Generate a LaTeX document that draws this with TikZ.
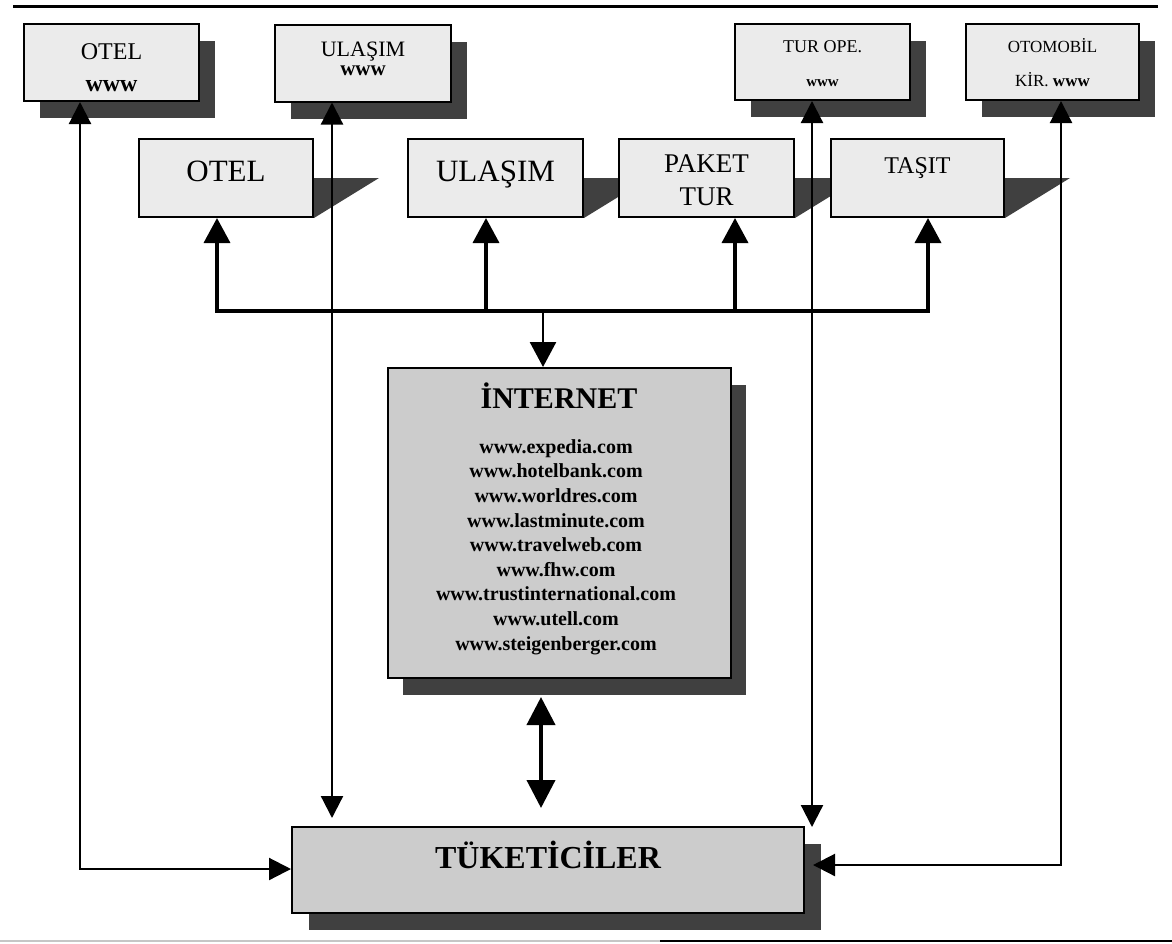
\documentclass[tikz,border=0pt]{standalone}
\usepackage{fontspec}
\setmainfont{Liberation Serif}
\usetikzlibrary{arrows.meta,shadows,backgrounds,calc}
\newcommand{\setfs}[2]{\fontsize{#1}{#2}\selectfont}

\begin{document}
\begin{tikzpicture}[x=1pt,y=-1pt,
  lightfill/.style={fill=gray!16},
  darkfill/.style={fill=gray!40},
  shadowcol/.style={fill=black!75},
  webbox/.style={draw=black,line width=2pt,lightfill,minimum width=175pt,
    minimum height=77pt,inner sep=0pt,align=center,
    drop shadow={shadow xshift=16pt,shadow yshift=-17pt,shadowcol,opacity=1}},
  midbox/.style={draw=black,line width=2pt,lightfill,minimum width=174pt,
    minimum height=78pt,inner sep=0pt,align=center},
  inetbox/.style={draw=black,line width=2pt,darkfill,minimum width=343pt,
    minimum height=310pt,inner sep=0pt,
    drop shadow={shadow xshift=15pt,shadow yshift=-17pt,shadowcol,opacity=1}},
  userbox/.style={draw=black,line width=2pt,darkfill,minimum width=512pt,
    minimum height=86pt,inner sep=0pt,
    drop shadow={shadow xshift=17pt,shadow yshift=-17pt,shadowcol,opacity=1}},
  thinline/.style={line width=2.2pt},
  busline/.style={line width=3.6pt},
  stemline/.style={line width=2.6pt},
  dblline/.style={line width=4pt},
  tipthin/.tip={Triangle[length=22pt,width=22pt]},
  tipbus/.tip={Triangle[length=25pt,width=26pt]},
  tipdbl/.tip={Triangle[length=28pt,width=28pt]},
]
\useasboundingbox (0,0) rectangle (1172,943);

% page rules
\draw[line width=3pt] (13,6) -- (1158,6);
\draw[gray!45,line width=2pt] (0,941) -- (660,941);
\draw[black,line width=2pt] (660,941) -- (1172,941);

% web sites of the suppliers
\node[webbox,font=\setfs{24}{32}] (tw1) at (111.5,62.5)
  {\rule{0pt}{27pt}OTEL\\\textbf{www}};
\node[webbox,minimum width=176pt,font=\setfs{22}{19}] (tw2) at (363,63)
  {ULAŞIM\\\textbf{\setfs{21}{19}www}\rule[-8pt]{0pt}{0pt}};
\node[webbox,minimum height=76pt,font=\setfs{18}{34}] (tw3) at (822.5,62)
  {\rule{0pt}{16pt}TUR OPE.\\\textbf{\setfs{15}{34}www}};
\node[webbox,minimum width=173pt,minimum height=76pt,font=\setfs{17}{34}] (tw4) at (1052.5,62)
  {\rule{0pt}{16pt}OTOMOBİL\\KİR. \textbf{www}};

% intermediaries
\node[midbox,font=\setfs{31}{31},text height=20pt,text depth=14pt] (m1) at (226,178) {OTEL};
\node[midbox,minimum width=175pt,font=\setfs{31}{31},text height=20pt,text depth=14pt] (m2) at (495.5,178) {ULAŞIM};
\node[midbox,minimum width=175pt,font=\setfs{27}{33}] (m3) at (706.5,178) {\rule{0pt}{23pt}PAKET\\TUR};
\node[midbox,minimum width=173pt,font=\setfs{24}{24},text height=16pt,text depth=26pt] (m4) at (917.5,178) {TAŞIT};

% slanted shadows of the intermediaries
\begin{scope}[on background layer]
  \foreach \n in {m1,m2,m3,m4}
    \fill[shadowcol] (\n.east) -- ++(65,0) -- (\n.south east) -- cycle;
\end{scope}

% internet portal
\node[inetbox] (inet) at (559.5,523) {};
\node[anchor=base,inner sep=0pt,font=\setfs{30}{30}\bfseries] (inettitle) at (559,408) {İNTERNET};
\node[anchor=north,inner sep=0pt,align=center,font=\setfs{20}{24.6}\bfseries] (urls) at (556,439.3)
  {www.expedia.com\\www.hotelbank.com\\www.worldres.com\\www.lastminute.com\\
   www.travelweb.com\\www.fhw.com\\www.trustinternational.com\\www.utell.com\\
   www.steigenberger.com};

% consumers
\node[userbox,font=\setfs{32}{32}\bfseries,text height=20pt,text depth=24pt] (tk) at (548,870) {TÜKETİCİLER};

% bus from the internet to the intermediaries
\coordinate (j1) at (217,311);
\coordinate (j2) at (486,311);
\coordinate (j3) at (735,311);
\coordinate (j4) at (928,311);
\coordinate (js) at (543,311);
\draw[busline,tipbus-tipbus] (m1.south -| j1) -- (j1) -- (j4) -- (m4.south -| j4);
\draw[busline,-tipbus] (j2) -- (m2.south -| j2);
\draw[busline,-tipbus] (j3) -- (m3.south -| j3);
\draw[stemline,-tipbus] (js) -- (inet.north -| js);

% internet <-> consumers
\coordinate (d1) at ($(inet.south)+(-18.5,18)$);
\coordinate (d2) at (541,808);
\draw[dblline,tipdbl-tipdbl] (d1) -- (d2);

% direct links between supplier web sites and consumers
\coordinate (c1) at (80,869);
\draw[thinline,tipthin-tipthin] (tw1.south -| c1) -- (c1) -- (tk.west |- c1);
\coordinate (c2) at (332,818);
\draw[thinline,tipthin-tipthin] (tw2.south -| c2) -- (c2);
\coordinate (c3) at (812,827);
\draw[thinline,tipthin-tipthin] (tw3.south -| c3) -- (c3);
\coordinate (c4) at (1061,865);
\coordinate (c5) at (813,865);
\draw[thinline,tipthin-tipthin] (tw4.south -| c4) -- (c4) -- (c5);
\end{tikzpicture}
\end{document}
